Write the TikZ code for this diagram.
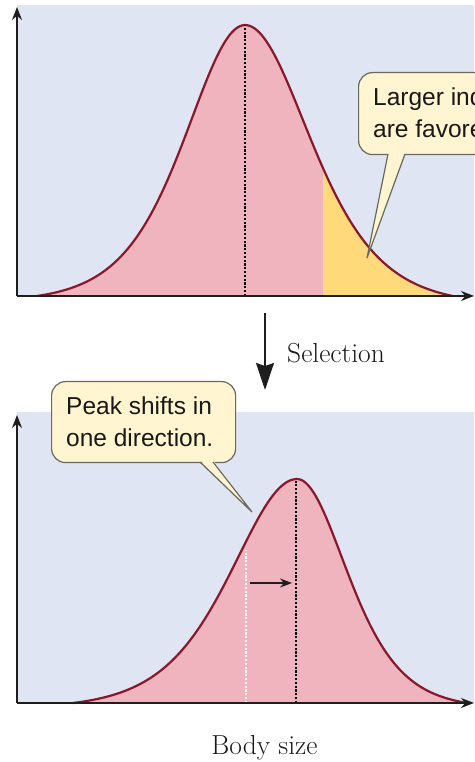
\documentclass[tikz,border=0pt]{standalone}
\usepackage{fontspec}
\newfontfamily\callfont{Liberation Sans}
\usetikzlibrary{arrows.meta}
\definecolor{bgblue}{RGB}{223,229,243}
\definecolor{pinkfill}{RGB}{239,180,190}
\definecolor{curvered}{RGB}{138,24,44}
\definecolor{yellowfill}{RGB}{255,217,122}
\definecolor{callfill}{RGB}{255,245,208}
\definecolor{callline}{RGB}{105,105,95}
\definecolor{axisblack}{RGB}{30,30,30}
\tikzset{
  axisline/.style={draw=axisblack, line width=1.6pt, -{Stealth[length=13pt,width=10pt]}},
  curveline/.style={draw=curvered, line width=2.2pt, line join=round},
  dotline/.style={line width=2pt, dash pattern=on 2.2pt off 1.6pt},
  callbox/.style={draw=callline, fill=callfill, line width=1.2pt, rounded corners=14pt, inner sep=0pt},
  calltext/.style={font=\callfont\fontsize{24.5}{31}\selectfont, inner sep=0pt, text=black!90},
  seriflabel/.style={font=\fontsize{27.5}{32}\selectfont, inner sep=0pt, text=black!90},
  selarrow/.style={draw=axisblack, line width=1.6pt, -{Stealth[length=27pt,width=18pt,inset=3pt]}},
  shiftarrow/.style={draw=axisblack, line width=1.5pt, -{Stealth[length=12pt,width=9pt]}}
}
% sech^2 bump, shifted so that it reaches the base line at the ends
% args: x, centre, scale, offset c
\begin{document}
\begin{tikzpicture}[x=1pt,y=1pt,
  declare function={
    bump(\u,\c)=(4/(exp(\u)+exp(-\u))^2-\c)/(1-\c);
  }]
\useasboundingbox (0,0) rectangle (474,762);
% ---------- top panel ----------
\fill[bgblue] (17,466) rectangle (474,757);
\fill[pinkfill] (37,466)
  -- plot[domain=37:245,samples=100] (\x,{466+271*bump((\x-245)/80,0.0218)})
  -- plot[domain=245:453,samples=100] (\x,{466+271*bump((\x-245)/87,0.0333)})
  -- (453,466) -- cycle;
\fill[yellowfill] (323,466)
  -- plot[domain=323:453,samples=60] (\x,{466+271*bump((\x-245)/87,0.0333)})
  -- (453,466) -- cycle;
\draw[curveline]
  plot[domain=37:245,samples=100] (\x,{466+271*bump((\x-245)/80,0.0218)})
  -- plot[domain=245:453,samples=100] (\x,{466+271*bump((\x-245)/87,0.0333)});
\coordinate (peak1) at (245,737);
\coordinate (base1) at (245,466);
\draw[dotline, black] (base1) -- (peak1);
\coordinate (o1) at (17,466);
\coordinate (ytop1) at (17,755);
\coordinate (xend1) at (474,466);
\draw[axisline] (o1) -- (ytop1);
\draw[axisline] (o1) -- (xend1);
% top callout
\node[callbox, minimum width=210pt, minimum height=82pt, anchor=north west] (box1) at (358,690) {};
\coordinate (tip1) at (367,504);
\fill[callfill] (388,609.8) -- (tip1) -- (405,609.8) -- cycle;
\draw[draw=callline, line width=1.2pt, line join=miter] (388,608) -- (tip1) -- (405,608);
\node[calltext, anchor=base west] (t1a) at (373,656) {Larger individuals};
\node[calltext, anchor=base west] (t1b) at (373,624) {are favored.};
% ---------- selection arrow ----------
\coordinate (s1) at (265,449);
\coordinate (s2) at (265,372);
\draw[selarrow] (s1) -- (s2);
\node[seriflabel, anchor=base west] (sel) at (287,399) {Selection};
% ---------- bottom panel ----------
\fill[bgblue] (17,59) rectangle (474,350);
\fill[pinkfill] (73,59)
  -- plot[domain=73:297,samples=100] (\x,{59+224*bump((\x-297)/88,0.0243)})
  -- plot[domain=297:467,samples=100] (\x,{59+224*bump((\x-297)/67,0.0245)})
  -- (467,59) -- cycle;
\draw[curveline]
  plot[domain=73:297,samples=100] (\x,{59+224*bump((\x-297)/88,0.0243)})
  -- plot[domain=297:467,samples=100] (\x,{59+224*bump((\x-297)/67,0.0245)});
\coordinate (peak2) at (296,281);
\coordinate (base2) at (296,59);
\coordinate (old2) at (246,212);
\coordinate (oldbase2) at (246,59);
\draw[dotline, white] (oldbase2) -- (old2);
\draw[dotline, black] (base2) -- (peak2);
\coordinate (a1) at (250,179);
\coordinate (a2) at (292,179);
\draw[shiftarrow] (a1) -- (a2);
\coordinate (o2) at (17,59);
\coordinate (ytop2) at (17,347);
\coordinate (xend2) at (474,59);
\draw[axisline] (o2) -- (ytop2);
\draw[axisline] (o2) -- (xend2);
% bottom callout
\node[callbox, minimum width=184pt, minimum height=81pt, anchor=north west] (box2) at (51,381) {};
\coordinate (tip2) at (252,250);
\fill[callfill] (200,301.8) -- (tip2) -- (213,301.8) -- cycle;
\draw[draw=callline, line width=1.2pt, line join=miter] (200,300) -- (tip2) -- (213,300);
\node[calltext, anchor=base west] (t2a) at (66,347) {Peak shifts in};
\node[calltext, anchor=base west] (t2b) at (66,315) {one direction.};
% axis label
\node[seriflabel, anchor=base] (xlab) at (264.5,8) {Body size};
\end{tikzpicture}
\end{document}
